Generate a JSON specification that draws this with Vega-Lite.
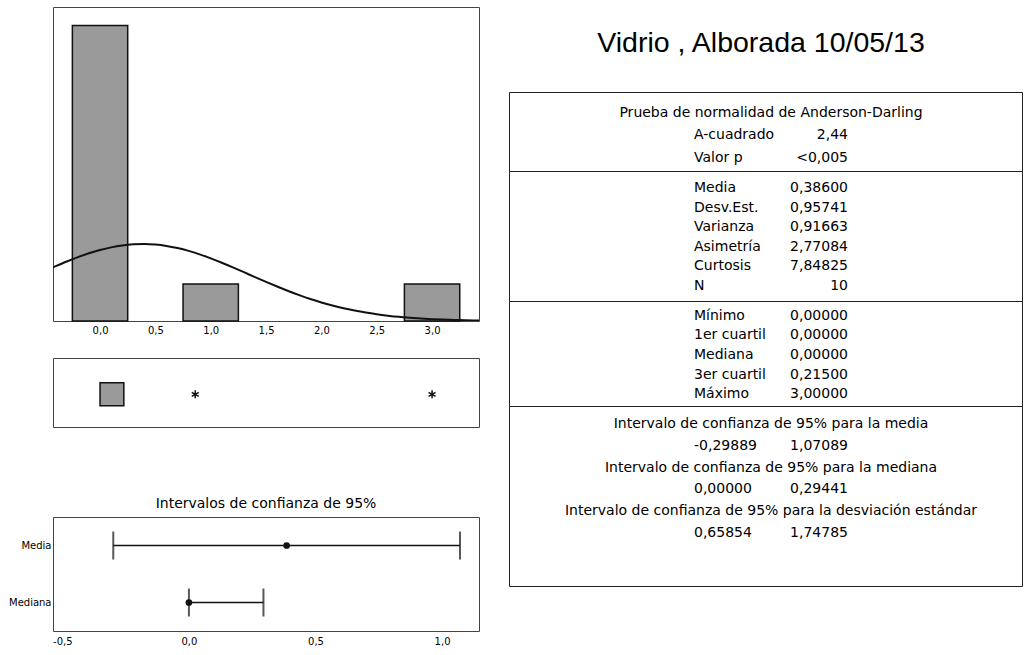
{
  "$schema": "https://vega.github.io/schema/vega-lite/v6.json",
  "background": "white",
  "padding": {"left": 8, "top": 6, "right": 0, "bottom": 0},
  "config": {
    "font": "DejaVu Sans",
    "view": {"stroke": "#444", "strokeWidth": 1},
    "axis": {"labelFont": "DejaVu Sans", "labelColor": "#000", "grid": false, "domain": false, "ticks": false, "tickSize": 0, "title": null},
    "text": {"font": "DejaVu Sans", "fontSize": 14, "color": "#000", "baseline": "middle"}
  },
  "spacing": 28,
  "hconcat": [
    {
      "spacing": 68,
      "vconcat": [
        {
          "spacing": 37,
          "bounds": "flush",
          "vconcat": [
            {
              "width": 426,
              "height": 314,
              "layer": [
                {
                  "data": {"values": [
                    {"inicio": -0.25, "fin": 0.25, "frecuencia": 8},
                    {"inicio": 0.75, "fin": 1.25, "frecuencia": 1},
                    {"inicio": 2.75, "fin": 3.25, "frecuencia": 1}
                  ]},
                  "mark": {"type": "rect", "fill": "#9a9a9a", "stroke": "#111", "strokeWidth": 1.5},
                  "encoding": {
                    "x": {"field": "inicio", "type": "quantitative",
                      "scale": {"domain": [-0.425, 3.424], "nice": false, "zero": false},
                      "axis": {"values": [0, 0.5, 1, 1.5, 2, 2.5, 3], "labelFontSize": 10, "labelPadding": 4,
                        "labelExpr": "replace(replace(format(datum.value, '.1f'), '.', ','), '\u2212', '-')"}},
                    "x2": {"field": "fin"},
                    "y": {"field": "frecuencia", "type": "quantitative", "scale": {"domain": [0, 8.5], "nice": false}, "axis": null},
                    "y2": {"datum": 0}
                  }
                },
                {
                  "data": {"values": [
                    {"valor": -0.425, "densidad": 1.455},
                    {"valor": -0.4, "densidad": 1.487},
                    {"valor": -0.3, "densidad": 1.612},
                    {"valor": -0.2, "densidad": 1.728},
                    {"valor": -0.1, "densidad": 1.832},
                    {"valor": 0.0, "densidad": 1.921},
                    {"valor": 0.1, "densidad": 1.993},
                    {"valor": 0.2, "densidad": 2.045},
                    {"valor": 0.3, "densidad": 2.075},
                    {"valor": 0.4, "densidad": 2.083},
                    {"valor": 0.5, "densidad": 2.069},
                    {"valor": 0.6, "densidad": 2.032},
                    {"valor": 0.7, "densidad": 1.974},
                    {"valor": 0.8, "densidad": 1.898},
                    {"valor": 0.9, "densidad": 1.804},
                    {"valor": 1.0, "densidad": 1.696},
                    {"valor": 1.1, "densidad": 1.578},
                    {"valor": 1.2, "densidad": 1.452},
                    {"valor": 1.3, "densidad": 1.321},
                    {"valor": 1.4, "densidad": 1.189},
                    {"valor": 1.5, "densidad": 1.059},
                    {"valor": 1.6, "densidad": 0.933},
                    {"valor": 1.7, "densidad": 0.813},
                    {"valor": 1.8, "densidad": 0.700},
                    {"valor": 1.9, "densidad": 0.597},
                    {"valor": 2.0, "densidad": 0.503},
                    {"valor": 2.1, "densidad": 0.420},
                    {"valor": 2.2, "densidad": 0.346},
                    {"valor": 2.3, "densidad": 0.283},
                    {"valor": 2.4, "densidad": 0.228},
                    {"valor": 2.5, "densidad": 0.182},
                    {"valor": 2.6, "densidad": 0.144},
                    {"valor": 2.7, "densidad": 0.112},
                    {"valor": 2.8, "densidad": 0.087},
                    {"valor": 2.9, "densidad": 0.066},
                    {"valor": 3.0, "densidad": 0.050},
                    {"valor": 3.1, "densidad": 0.038},
                    {"valor": 3.2, "densidad": 0.028},
                    {"valor": 3.3, "densidad": 0.020},
                    {"valor": 3.424, "densidad": 0.014}
                  ]},
                  "mark": {"type": "line", "color": "#111", "strokeWidth": 2, "interpolate": "monotone", "clip": true},
                  "encoding": {
                    "x": {"field": "valor", "type": "quantitative"},
                    "y": {"field": "densidad", "type": "quantitative"}
                  }
                }
              ]
            },
            {
              "width": 426,
              "height": 69,
              "layer": [
                {
                  "data": {"values": [{"grupo": "Vidrio", "q1": 0, "q3": 0.215, "mediana": 0}]},
                  "mark": {"type": "bar", "fill": "#9a9a9a", "stroke": "#111", "strokeWidth": 1.5},
                  "encoding": {
                    "x": {"field": "q1", "type": "quantitative", "scale": {"domain": [-0.425, 3.424], "nice": false, "zero": false}, "axis": null},
                    "x2": {"field": "q3"},
                    "y": {"field": "grupo", "type": "nominal", "scale": {"paddingInner": 0, "paddingOuter": 1.14, "align": 0.54}, "axis": null}
                  }
                },
                {
                  "data": {"values": [{"grupo": "Vidrio", "atipico": 0.86}, {"grupo": "Vidrio", "atipico": 3.0}]},
                  "mark": {"type": "point", "shape": "M0,-1L0,1M-0.87,-0.5L0.87,0.5M-0.87,0.5L0.87,-0.5", "filled": false, "stroke": "#111", "strokeWidth": 1.5, "size": 64, "opacity": 1},
                  "encoding": {
                    "x": {"field": "atipico", "type": "quantitative"},
                    "y": {"field": "grupo", "type": "nominal"}
                  }
                }
              ]
            }
          ]
        },
        {
          "width": 426,
          "height": 114,
          "title": {"text": "Intervalos de confianza de 95%", "fontSize": 14, "fontWeight": "normal", "font": "DejaVu Sans", "color": "#000", "offset": 6},
          "data": {"values": [
            {"estadistico": "Media", "inferior": -0.29889, "superior": 1.07089, "estimacion": 0.386},
            {"estadistico": "Mediana", "inferior": 0, "superior": 0.29441, "estimacion": 0}
          ]},
          "encoding": {
            "y": {"field": "estadistico", "type": "nominal", "sort": ["Media", "Mediana"],
              "scale": {"type": "point", "padding": 0.5},
              "axis": {"labelFontSize": 10, "labelPadding": 2}}
          },
          "layer": [
            {
              "mark": {"type": "rule", "color": "#111", "strokeWidth": 1.5},
              "encoding": {
                "x": {"field": "inferior", "type": "quantitative",
                  "scale": {"domain": [-0.537, 1.146], "nice": false, "zero": false},
                  "axis": {"values": [-0.5, 0, 0.5, 1], "labelFontSize": 10, "labelPadding": 5,
                    "labelExpr": "replace(replace(format(datum.value, '.1f'), '.', ','), '\u2212', '-')"}},
                "x2": {"field": "superior"}
              }
            },
            {
              "mark": {"type": "tick", "orient": "vertical", "color": "#111", "thickness": 2, "size": 28},
              "encoding": {"x": {"field": "inferior", "type": "quantitative"}}
            },
            {
              "mark": {"type": "tick", "orient": "vertical", "color": "#111", "thickness": 2, "size": 28},
              "encoding": {"x": {"field": "superior", "type": "quantitative"}}
            },
            {
              "mark": {"type": "point", "filled": true, "color": "#111", "size": 45, "opacity": 1},
              "encoding": {"x": {"field": "estimacion", "type": "quantitative"}}
            }
          ]
        }
      ]
    },
    {
      "spacing": 0,
      "bounds": "flush",
      "vconcat": [
        {
          "width": 513,
          "height": 85,
          "view": {"stroke": null},
          "data": {"values": [{"titulo": "Vidrio , Alborada 10/05/13"}]},
          "mark": {"type": "text", "font": "Liberation Sans", "fontSize": 28.5, "color": "#000", "dx": -4.5, "dy": -7, "baseline": "middle", "align": "center"},
          "encoding": {"text": {"field": "titulo"}}
        },
        {
          "width": 513,
          "height": 79,
          "view": {"stroke": "#222"},
          "data": {"values": [
            {"fila": 1, "columna": 2, "texto": "Prueba de normalidad de Anderson-Darling"},
            {"fila": 2, "columna": 1, "texto": "A-cuadrado"},
            {"fila": 2, "columna": 3, "texto": "2,44"},
            {"fila": 3, "columna": 1, "texto": "Valor p"},
            {"fila": 3, "columna": 3, "texto": "<0,005"}
          ]},
          "encoding": {
            "x": {"field": "columna", "type": "quantitative", "scale": {"domain": [-1.4026, 5.2597], "nice": false, "zero": false}, "axis": null},
            "y": {"field": "fila", "type": "quantitative", "scale": {"domain": [0.0667, 3.578], "reverse": true, "nice": false, "zero": false}, "axis": null},
            "text": {"field": "texto"}
          },
          "layer": [
            {"transform": [{"filter": "datum.columna === 1"}], "mark": {"type": "text", "align": "left"}},
            {"transform": [{"filter": "datum.columna === 2"}], "mark": {"type": "text", "align": "center"}},
            {"transform": [{"filter": "datum.columna === 3"}], "mark": {"type": "text", "align": "right"}}
          ]
        },
        {
          "width": 513,
          "height": 130,
          "view": {"stroke": "#222"},
          "data": {"values": [
            {"fila": 1, "columna": 1, "texto": "Media"},
            {"fila": 1, "columna": 3, "texto": "0,38600"},
            {"fila": 2, "columna": 1, "texto": "Desv.Est."},
            {"fila": 2, "columna": 3, "texto": "0,95741"},
            {"fila": 3, "columna": 1, "texto": "Varianza"},
            {"fila": 3, "columna": 3, "texto": "0,91663"},
            {"fila": 4, "columna": 1, "texto": "Asimetría"},
            {"fila": 4, "columna": 3, "texto": "2,77084"},
            {"fila": 5, "columna": 1, "texto": "Curtosis"},
            {"fila": 5, "columna": 3, "texto": "7,84825"},
            {"fila": 6, "columna": 1, "texto": "N"},
            {"fila": 6, "columna": 3, "texto": "10"}
          ]},
          "encoding": {
            "x": {"field": "columna", "type": "quantitative", "scale": {"domain": [-1.4026, 5.2597], "nice": false, "zero": false}, "axis": null},
            "y": {"field": "fila", "type": "quantitative", "scale": {"domain": [0.133, 6.765], "reverse": true, "nice": false, "zero": false}, "axis": null},
            "text": {"field": "texto"}
          },
          "layer": [
            {"transform": [{"filter": "datum.columna === 1"}], "mark": {"type": "text", "align": "left"}},
            {"transform": [{"filter": "datum.columna === 3"}], "mark": {"type": "text", "align": "right"}}
          ]
        },
        {
          "width": 513,
          "height": 105,
          "view": {"stroke": "#222"},
          "data": {"values": [
            {"fila": 1, "columna": 1, "texto": "Mínimo"},
            {"fila": 1, "columna": 3, "texto": "0,00000"},
            {"fila": 2, "columna": 1, "texto": "1er cuartil"},
            {"fila": 2, "columna": 3, "texto": "0,00000"},
            {"fila": 3, "columna": 1, "texto": "Mediana"},
            {"fila": 3, "columna": 3, "texto": "0,00000"},
            {"fila": 4, "columna": 1, "texto": "3er cuartil"},
            {"fila": 4, "columna": 3, "texto": "0,21500"},
            {"fila": 5, "columna": 1, "texto": "Máximo"},
            {"fila": 5, "columna": 3, "texto": "3,00000"}
          ]},
          "encoding": {
            "x": {"field": "columna", "type": "quantitative", "scale": {"domain": [-1.4026, 5.2597], "nice": false, "zero": false}, "axis": null},
            "y": {"field": "fila", "type": "quantitative", "scale": {"domain": [0.231, 5.615], "reverse": true, "nice": false, "zero": false}, "axis": null},
            "text": {"field": "texto"}
          },
          "layer": [
            {"transform": [{"filter": "datum.columna === 1"}], "mark": {"type": "text", "align": "left"}},
            {"transform": [{"filter": "datum.columna === 3"}], "mark": {"type": "text", "align": "right"}}
          ]
        },
        {
          "width": 513,
          "height": 180,
          "view": {"stroke": "#222"},
          "data": {"values": [
            {"fila": 1, "columna": 2, "texto": "Intervalo de confianza de 95% para la media"},
            {"fila": 2, "columna": 1, "texto": "-0,29889"},
            {"fila": 2, "columna": 3, "texto": "1,07089"},
            {"fila": 3, "columna": 2, "texto": "Intervalo de confianza de 95% para la mediana"},
            {"fila": 4, "columna": 1, "texto": "0,00000"},
            {"fila": 4, "columna": 3, "texto": "0,29441"},
            {"fila": 5, "columna": 2, "texto": "Intervalo de confianza de 95% para la desviación estándar"},
            {"fila": 6, "columna": 1, "texto": "0,65854"},
            {"fila": 6, "columna": 3, "texto": "1,74785"}
          ]},
          "encoding": {
            "x": {"field": "columna", "type": "quantitative", "scale": {"domain": [-1.4026, 5.2597], "nice": false, "zero": false}, "axis": null},
            "y": {"field": "fila", "type": "quantitative", "scale": {"domain": [0.174, 8.43], "reverse": true, "nice": false, "zero": false}, "axis": null},
            "text": {"field": "texto"}
          },
          "layer": [
            {"transform": [{"filter": "datum.columna === 1"}], "mark": {"type": "text", "align": "left"}},
            {"transform": [{"filter": "datum.columna === 2"}], "mark": {"type": "text", "align": "center"}},
            {"transform": [{"filter": "datum.columna === 3"}], "mark": {"type": "text", "align": "right"}}
          ]
        }
      ]
    }
  ]
}
